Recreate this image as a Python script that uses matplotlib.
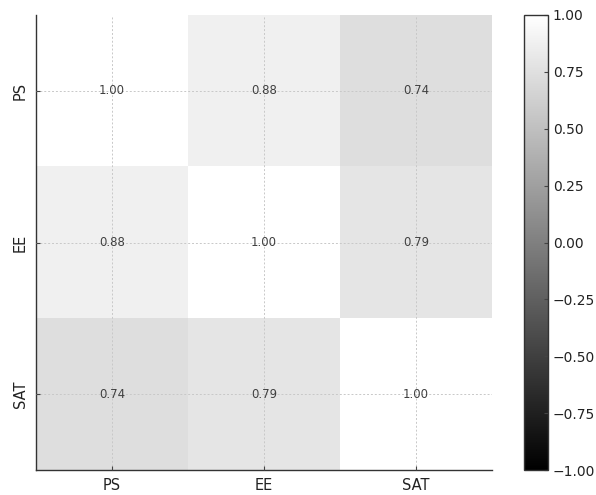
import matplotlib
matplotlib.use('Agg')
from matplotlib import pyplot as plt
import numpy as np

# correlation matrix between the three scores
labels = ['PS', 'EE', 'SAT']
corr = [[1.00, 0.88, 0.74],
        [0.88, 1.00, 0.79],
        [0.74, 0.79, 1.00]]
cbar_ticks = [-1.00, -0.75, -0.50, -0.25, 0.00, 0.25, 0.50, 0.75, 1.00]

fig = plt.figure(figsize=(5.96, 4.95), dpi=100)
ax = fig.add_axes([0.0604, 0.0505, 0.7651, 0.9192])
cax = fig.add_axes([0.879, 0.0505, 0.0403, 0.9192])

data = np.array(corr)
n = len(labels)
im = ax.imshow(data, cmap='gray', vmin=-1, vmax=1, aspect='auto',
               extent=(-0.5, n - 0.5, n - 0.5, -0.5), interpolation='nearest')

for i in range(n):
    for j in range(n):
        ax.text(j, i, '%.2f' % data[i, j], ha='center', va='center',
                fontsize=8.5, color='#404040')

ax.set_xticks(range(n))
ax.set_yticks(range(n))
ax.set_xticklabels(labels, fontsize=10.5, color='#222222')
ax.set_yticklabels(labels, fontsize=10.5, color='#222222', rotation=90, va='center')
ax.tick_params(direction='in', length=3, color='#444444', pad=6)
ax.grid(True, linestyle=(0, (2, 2)), color='#c8c8c8', linewidth=0.7)
ax.set_axisbelow(False)
for s in ['top', 'right']:
    ax.spines[s].set_visible(False)
for s in ['left', 'bottom']:
    ax.spines[s].set_color('#333333')
    ax.spines[s].set_linewidth(1.0)

cb = fig.colorbar(im, cax=cax, ticks=cbar_ticks)
cb.ax.set_yticklabels(['%.2f' % t if t >= 0 else '\u2212%.2f' % abs(t) for t in cbar_ticks])
cb.ax.tick_params(direction='in', length=3, labelsize=10, color='#444444', labelcolor='#222222')
cb.outline.set_edgecolor('#333333')
cb.outline.set_linewidth(1.0)

plt.savefig('out.png', dpi=100)
